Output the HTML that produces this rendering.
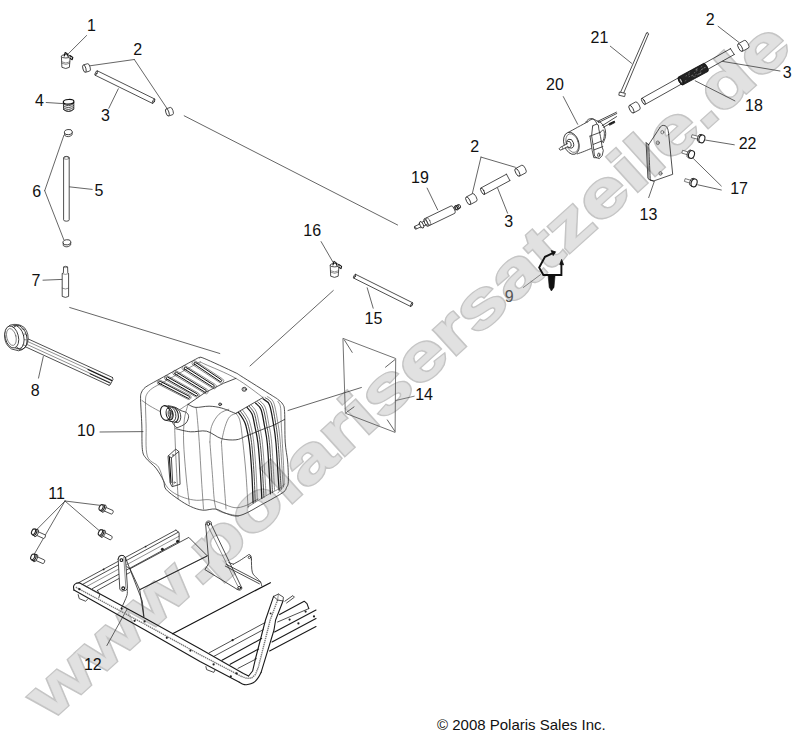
<!DOCTYPE html>
<html><head><meta charset="utf-8">
<style>
html,body{margin:0;padding:0;background:#fff;}
svg{display:block;font-family:"Liberation Sans",sans-serif;}
.l{stroke:#222;stroke-width:0.8;fill:none;stroke-linecap:round;stroke-linejoin:round}
.t{stroke:#444;stroke-width:0.6;fill:none;stroke-linecap:round;stroke-linejoin:round}
.m{stroke:#1a1a1a;stroke-width:1.1;fill:none;stroke-linecap:round;stroke-linejoin:round}
.k{stroke:#111;stroke-width:1.4;fill:none;stroke-linecap:round;stroke-linejoin:round}
.f{stroke:#222;stroke-width:0.8;fill:#fff;stroke-linejoin:round}
.ld{stroke:#333;stroke-width:0.75;fill:none;stroke-linecap:round}
.n{font-size:16px;fill:#111;text-anchor:middle}
</style></head><body>
<svg width="811" height="745" viewBox="0 0 811 745">
<rect width="811" height="745" fill="#fff"/>
<g id="wm" transform="translate(50.2,721.4) rotate(-42.06) scale(1.3203,1)" font-weight="bold" font-size="64" stroke-linejoin="miter">
<text x="0" y="0" dx="0 0 0 5 -5 0 0 0 0 0 0 0 0 0 0 0 0 0 0 0 0 1 -1 0" fill="#c5c5c5" stroke="#c5c5c5" stroke-width="3.4" vector-effect="non-scaling-stroke">www.polarisersatzeile.de</text>
<text x="0" y="0" dx="0 0 0 5 -5 0 0 0 0 0 0 0 0 0 0 0 0 0 0 0 0 1 -1 0" fill="#e1e1e1" stroke="#e1e1e1" stroke-width="0.3" vector-effect="non-scaling-stroke">www.polarisersatzeile.de</text>
</g>
<g id="parts">
<line class="ld" x1="86.6" y1="35.5" x2="68.4" y2="53.7"/>
<line class="ld" x1="134.3" y1="59.5" x2="89.2" y2="65.9"/>
<line class="ld" x1="134.3" y1="59.5" x2="166.9" y2="108.3"/>
<line class="ld" x1="108.8" y1="108.3" x2="118.3" y2="88.8"/>
<line class="ld" x1="46.2" y1="102.5" x2="63.3" y2="103.6"/>
<line class="ld" x1="92.2" y1="189.4" x2="69" y2="186.8"/>
<line class="ld" x1="44.7" y1="190.7" x2="63.9" y2="135.3"/>
<line class="ld" x1="44.7" y1="190.7" x2="63.9" y2="239.9"/>
<line class="ld" x1="43" y1="280.2" x2="62.1" y2="279.4"/>
<line class="ld" x1="38.5" y1="378.1" x2="43.3" y2="356.5"/>
<line class="ld" x1="100" y1="432" x2="143" y2="431.6"/>
<line class="ld" x1="65" y1="501" x2="101.4" y2="505.5"/>
<line class="ld" x1="65" y1="501" x2="100" y2="531.3"/>
<line class="ld" x1="65" y1="501" x2="37" y2="529.3"/>
<line class="ld" x1="65" y1="501" x2="34.2" y2="554.3"/>
<line class="ld" x1="106.9" y1="645.5" x2="127" y2="609.3"/>
<line class="ld" x1="321.1" y1="241.6" x2="333.3" y2="262.7"/>
<line class="ld" x1="373.2" y1="308.2" x2="367.2" y2="287.8"/>
<line class="ld" x1="427.1" y1="188.1" x2="437.7" y2="209.9"/>
<line class="ld" x1="481" y1="157.1" x2="472.1" y2="194.4"/>
<line class="ld" x1="481" y1="157.1" x2="515.4" y2="167.3"/>
<line class="ld" x1="507.6" y1="213.2" x2="497.6" y2="188.1"/>
<line class="ld" x1="610.3" y1="46.2" x2="631.6" y2="63.3"/>
<line class="ld" x1="563.3" y1="96.6" x2="577.7" y2="124.3"/>
<line class="ld" x1="718.1" y1="26.3" x2="738.9" y2="42.4"/>
<line class="ld" x1="780" y1="71" x2="722.6" y2="61.4"/>
<line class="ld" x1="734.9" y1="100.9" x2="695.2" y2="80.8"/>
<line class="ld" x1="648.7" y1="197.6" x2="654.3" y2="181.4"/>
<line class="ld" x1="705.6" y1="140.1" x2="734.3" y2="144.8"/>
<line class="ld" x1="693.5" y1="158.7" x2="721.3" y2="186"/>
<line class="ld" x1="697.8" y1="184.8" x2="721.3" y2="190"/>
<line class="ld" x1="184.2" y1="115.8" x2="397.6" y2="225"/>
<line class="ld" x1="69.7" y1="307.5" x2="219.8" y2="353.5"/>
<line class="ld" x1="250" y1="366" x2="333.3" y2="290.5"/>
<line class="ld" x1="288" y1="410.5" x2="361.4" y2="387.5"/>
<line class="ld" style="stroke:#666" x1="523.3" y1="287.5" x2="540.6" y2="274.6"/>
<line class="ld" style="stroke:#555" x1="395.7" y1="400.5" x2="414.2" y2="396.2"/>
<path class="f" d="M61.4,56.3 L61.9,67.3 Q65.8,69.7 69.4,67.3 L70.2,56.3 Z"/>
<ellipse class="f" cx="65.8" cy="56.3" rx="4.4" ry="1.7" transform="rotate(0 65.8 56.3)" />
<path class="t" d="M61.7,61.9 Q65.8,64.3 69.9,61.9"/>
<path class="t" d="M61.8,63.3 Q65.8,65.7 69.8,63.3"/>
<path class="k" d="M64.2,56 L65.2,52.5 L67.2,53.7 L68.2,56.6" style="stroke-width:1.1"/>
<path class="k" d="M70,55.5 L72.8,57.5 L72.2,59.7 L70.2,58.5" style="stroke-width:1.1"/>
<path class="f" d="M330.2,265.2 L330.7,276.2 Q334.6,278.6 338.2,276.2 L339,265.2 Z"/>
<ellipse class="f" cx="334.6" cy="265.2" rx="4.4" ry="1.7" transform="rotate(0 334.6 265.2)" />
<path class="t" d="M330.5,270.8 Q334.6,273.2 338.7,270.8"/>
<path class="t" d="M330.6,272.2 Q334.6,274.6 338.6,272.2"/>
<path class="k" d="M333,264.9 L334,261.4 L336,262.6 L337,265.5" style="stroke-width:1.1"/>
<path class="k" d="M338.8,264.4 L341.6,266.4 L341,268.6 L339,267.4" style="stroke-width:1.1"/>
<path class="f" d="M85.4,72.3 L89.6,71.1 A1.5,3.8 -15.9 0 0 87.6,63.7 L83.4,64.9"/>
<ellipse class="f" cx="84.4" cy="68.6" rx="1.5" ry="3.8" transform="rotate(-15.9 84.4 68.6)" />
<path class="f" d="M168.6,116 L172.8,114.6 A1.5,3.8 -18.4 0 0 170.4,107.4 L166.2,108.8"/>
<ellipse class="f" cx="167.4" cy="112.4" rx="1.5" ry="3.8" transform="rotate(-18.4 167.4 112.4)" />
<path class="f" d="M470.2,204.6 L476.6,201.2 A1.7,4.3 -28 0 0 472.6,193.6 L466.2,197"/>
<ellipse class="f" cx="468.2" cy="200.8" rx="1.7" ry="4.3" transform="rotate(-28 468.2 200.8)" />
<path class="f" d="M519.4,176.2 L525.8,172.8 A1.7,4.3 -28 0 0 521.8,165.2 L515.4,168.6"/>
<ellipse class="f" cx="517.4" cy="172.4" rx="1.7" ry="4.3" transform="rotate(-28 517.4 172.4)" />
<path class="f" d="M633.5,113 L639.7,109.6 A1.7,4.3 -28.7 0 0 635.5,102 L629.3,105.4"/>
<ellipse class="f" cx="631.4" cy="109.2" rx="1.7" ry="4.3" transform="rotate(-28.7 631.4 109.2)" />
<path class="f" d="M742.3,51.4 L748.5,48 A1.7,4.3 -28.7 0 0 744.3,40.4 L738.1,43.8"/>
<ellipse class="f" cx="740.2" cy="47.6" rx="1.7" ry="4.3" transform="rotate(-28.7 740.2 47.6)" />
<path class="l" d="M95.1,75.2 L152.5,103.4" />
<path class="l" d="M97.3,70.8 L154.7,99" />
<ellipse class="l" cx="96.2" cy="73" rx="0.8" ry="2.4" transform="rotate(26.2 96.2 73)" />
<ellipse class="l" cx="153.6" cy="101.2" rx="0.8" ry="2.4" transform="rotate(26.2 153.6 101.2)" />
<path class="l" d="M484.3,194.4 L509.9,180.6" />
<path class="l" d="M480.9,188 L506.5,174.2" />
<ellipse class="l" cx="482.6" cy="191.2" rx="1.3" ry="3.6" transform="rotate(-28.3 482.6 191.2)" />
<path class="l" d="M506.5,174.2 L509.9,180.6" />
<path class="l" d="M353.7,278.1 L410.7,306.5" />
<path class="l" d="M355.5,274.3 L412.5,302.7" />
<ellipse class="l" cx="354.6" cy="276.2" rx="0.7" ry="2.1" transform="rotate(26.5 354.6 276.2)" />
<ellipse class="l" cx="411.6" cy="304.6" rx="0.7" ry="2.1" transform="rotate(26.5 411.6 304.6)" />
<path class="f" d="M63.4,102.2 L63.6,109.4 Q68.6,113.6 73.8,109.2 L73.8,102"/>
<path class="l" d="M63.4,103.8 Q68.6,108 73.8,103.4"/>
<path class="l" d="M63.4,105.7 Q68.6,109.9 73.8,105.3"/>
<path class="l" d="M63.4,107.6 Q68.6,111.8 73.8,107.2"/>
<path class="l" d="M63.4,109.5 Q68.6,113.7 73.8,109.1"/>
<ellipse class="k" cx="68.6" cy="101.8" rx="5.3" ry="2.3" transform="rotate(-3 68.6 101.8)" style="stroke-width:1.2;fill:#fff"/>
<path class="f" d="M63.6,158 A2.8,1.6 0 0 1 69.2,158 L69.2,219.8 A2.8,1.4 0 0 1 63.6,219.8 Z"/>
<ellipse class="t" cx="66.4" cy="158" rx="2.8" ry="1.3" transform="rotate(0 66.4 158)" />
<path class="f" d="M64.5,132.4 L64.7,135.4 Q68.3,138.2 72.1,134.8 L72.1,131.8 Z"/>
<ellipse class="f" cx="68.3" cy="132.1" rx="3.9" ry="2.6" transform="rotate(-8 68.3 132.1)" />
<path class="f" d="M63.1,242.6 L63.3,245.6 Q66.9,248.4 70.7,245 L70.7,242 Z"/>
<ellipse class="f" cx="66.9" cy="242.3" rx="3.9" ry="2.6" transform="rotate(-8 66.9 242.3)" />
<path class="f" d="M63.6,267 Q65.6,265.6 67.6,267 L67.8,272.8 L68.6,273.6 L68.6,296.4 Q65.4,298.4 62.2,296.4 L62.2,273.6 L63.4,272.8 Z"/>
<path class="t" d="M62.2,273.6 Q65.4,275.4 68.6,273.6 M62.2,288.2 Q65.4,290 68.6,288.2 M63.6,267 Q65.6,268.6 67.6,267"/>
<path class="l" d="M27.4,338.6 L112.4,377.4" />
<path class="l" d="M24.6,346.4 L109,385.2" />
<path class="t" d="M27,341.2 L111.4,379.8" />
<path class="t" d="M25.6,343.8 L110.2,382.6" />
<path class="l" d="M112.4,377.4 L113,379.4 L110,385 L109,385.2" />
<path class="k" d="M88,369.6 L111.6,380.4" style="stroke-width:1.1"/>
<path class="k" d="M90,373.8 L110,383" style="stroke-width:0.9"/>
<path class="f" d="M10,325.2 Q18,322.6 24.4,327.6 Q29.6,334 27.6,342.6 Q25.4,349.6 18.6,350.8 L11.6,349 Q4.8,345 4.6,336 Q5,328.4 10,325.2 Z"/>
<ellipse class="l" cx="19.4" cy="337.4" rx="7.4" ry="12.2" transform="rotate(-14 19.4 337.4)" />
<ellipse class="l" cx="16.6" cy="337.2" rx="7.2" ry="12" transform="rotate(-14 16.6 337.2)" />
<ellipse class="f" cx="11.8" cy="337" rx="6.6" ry="11.2" transform="rotate(-14 11.8 337)" />
<ellipse class="t" cx="11.4" cy="337" rx="4.6" ry="8.6" transform="rotate(-14 11.4 337)" />
<path class="t" d="M20.6,325.6 L17.6,325.2" />
<path class="t" d="M24.6,329.4 L21.6,329" />
<path class="t" d="M26.8,334.4 L23.8,334" />
<path class="t" d="M27.2,340 L24.2,339.6" />
<path class="t" d="M25.4,345.4 L22.4,345" />
<path class="t" d="M21.8,349.4 L18.8,349" />
<path class="f" d="M101.5,509.8 L111.4,514.1 A1,2 23.5 0 0 113,510.5 L103.1,506.2"/>
<ellipse class="f" cx="103.8" cy="508.6" rx="1.8" ry="4" transform="rotate(23.5 103.8 508.6)" />
<ellipse class="f" cx="102.3" cy="508" rx="1.9" ry="3.4" transform="rotate(23.5 102.3 508)" style="stroke-width:1.05"/>
<ellipse class="f" cx="101.1" cy="507.5" rx="1.8" ry="3" transform="rotate(23.5 101.1 507.5)" style="stroke-width:1.05"/>
<path class="f" d="M100.7,534.9 L110,539.8 A1,2 27.8 0 0 111.8,536.2 L102.5,531.3"/>
<ellipse class="f" cx="103" cy="533.8" rx="1.8" ry="4" transform="rotate(27.8 103 533.8)" />
<ellipse class="f" cx="101.6" cy="533.1" rx="1.9" ry="3.4" transform="rotate(27.8 101.6 533.1)" style="stroke-width:1.05"/>
<ellipse class="f" cx="100.4" cy="532.5" rx="1.8" ry="3" transform="rotate(27.8 100.4 532.5)" style="stroke-width:1.05"/>
<path class="f" d="M33.9,534.1 L43.6,538.5 A1,2 24.4 0 0 45.2,534.9 L35.5,530.5"/>
<ellipse class="f" cx="36.2" cy="533" rx="1.8" ry="4" transform="rotate(24.4 36.2 533)" />
<ellipse class="f" cx="34.7" cy="532.3" rx="1.9" ry="3.4" transform="rotate(24.4 34.7 532.3)" style="stroke-width:1.05"/>
<ellipse class="f" cx="33.5" cy="531.8" rx="1.8" ry="3" transform="rotate(24.4 33.5 531.8)" style="stroke-width:1.05"/>
<path class="f" d="M33.1,559.2 L42.9,563.6 A1,2 24.2 0 0 44.5,560 L34.7,555.6"/>
<ellipse class="f" cx="35.4" cy="558.1" rx="1.8" ry="4" transform="rotate(24.2 35.4 558.1)" />
<ellipse class="f" cx="33.9" cy="557.4" rx="1.9" ry="3.4" transform="rotate(24.2 33.9 557.4)" style="stroke-width:1.05"/>
<ellipse class="f" cx="32.7" cy="556.9" rx="1.8" ry="3" transform="rotate(24.2 32.7 556.9)" style="stroke-width:1.05"/>
<path class="ld" d="M343.3,338.5 L395.7,358.5 L395.1,432.4 L345.7,413.4 Z" style="stroke:#444"/>
<line class="ld" x1="344.4" y1="340" x2="352.2" y2="352.4"/>
<line class="ld" x1="394.7" y1="359.8" x2="385.5" y2="367.2"/>
<line class="ld" x1="394.7" y1="431" x2="387.3" y2="419.9"/>
<line class="ld" x1="346.3" y1="412.5" x2="354" y2="406.9"/>
<path class="f" d="M427.8,226.3 L454.8,213.3 A1.4,4.1 -25.7 0 0 451.2,205.9 L424.2,218.9"/>
<ellipse class="f" cx="426" cy="222.6" rx="1.4" ry="4.1" transform="rotate(-25.7 426 222.6)" />
<path class="l" d="M420.5,227.7 L426.9,224.5" />
<path class="l" d="M418.7,223.9 L425.1,220.7" />
<path class="f" d="M415.8,229.2 L420.6,227 A0.6,1.5 -24.6 0 0 419.4,224.2 L414.6,226.4"/>
<ellipse class="f" cx="415.2" cy="227.8" rx="0.6" ry="1.5" transform="rotate(-24.6 415.2 227.8)" />
<ellipse class="f" cx="421.6" cy="224.8" rx="1.6" ry="3.6" transform="rotate(-26 421.6 224.8)" />
<path class="f" d="M455.7,209.9 L460.3,207.7 A0.7,1.7 -25.6 0 0 458.9,204.7 L454.3,206.9"/>
<ellipse class="f" cx="455" cy="208.4" rx="0.7" ry="1.7" transform="rotate(-25.6 455 208.4)" />
<ellipse class="l" cx="456.4" cy="207.8" rx="1.2" ry="2.6" transform="rotate(-26 456.4 207.8)" />
<ellipse class="l" cx="458" cy="207" rx="1.1" ry="2.3" transform="rotate(-26 458 207)" />
<ellipse class="f" cx="459.4" cy="206.2" rx="0.9" ry="1.9" transform="rotate(-26 459.4 206.2)" />
<ellipse class="t" cx="428.4" cy="221.4" rx="1.6" ry="4.1" transform="rotate(-26 428.4 221.4)" />
<path d="M554.4,252.4 L545,256.8 L539.2,267.6 L543.4,275 L561.4,275 L561.4,262.4" fill="none" stroke="#111" stroke-width="1.9" stroke-linejoin="miter"/>
<path d="M551.2,250.6 L555.6,251.8 L553.2,255.6 Z M559.8,264.6 L561.6,259.4 L563.6,264.8 Z" fill="#111" stroke="#111" stroke-width="0.8"/>
<path d="M548.2,276 L555,276 L554,287.2 L551.4,291 L549.2,287.2 Z" fill="#111" stroke="#111" stroke-width="0.6"/>
<path class="l" d="M646.4,33.2 L620.6,92.2" />
<path class="l" d="M648.4,34.2 L623.6,93.2" />
<path class="l" d="M646.4,33.2 L647.6,32.4 L648.4,34.2" />
<path class="f" d="M619.4,92 L625.4,93.4 L624.6,96.6 L618.8,95.2 Z" />
<path class="l" d="M645.1,104.4 L734.1,54.6" />
<path class="l" d="M641.7,98.4 L730.7,48.6" />
<ellipse class="l" cx="643.4" cy="101.4" rx="1.2" ry="3.4" transform="rotate(-29.2 643.4 101.4)" />
<path class="l" d="M730.4,48.6 L734.4,54.7" />
<path d="M682.8,85 L708,71.4 A1.8,4.6 -28.4 0 0 703.6,63.4 L678.4,77 A1.8,4.6 -28.4 0 0 682.8,85 Z" fill="#222" stroke="#111" stroke-width="0.8"/>
<line x1="688.7" y1="76.9" x2="690.1" y2="76.2" stroke="#999" stroke-width="0.5"/>
<line x1="691.7" y1="75.8" x2="693.1" y2="75" stroke="#999" stroke-width="0.5"/>
<line x1="695.4" y1="69.8" x2="696.8" y2="69.1" stroke="#999" stroke-width="0.5"/>
<line x1="684.9" y1="81.1" x2="686.3" y2="80.4" stroke="#999" stroke-width="0.5"/>
<line x1="688.2" y1="74.9" x2="689.6" y2="74.2" stroke="#999" stroke-width="0.5"/>
<line x1="704.4" y1="68" x2="705.8" y2="67.2" stroke="#999" stroke-width="0.5"/>
<line x1="701" y1="69.8" x2="702.5" y2="69" stroke="#999" stroke-width="0.5"/>
<line x1="695.9" y1="70.2" x2="697.3" y2="69.4" stroke="#999" stroke-width="0.5"/>
<line x1="698" y1="74.3" x2="699.4" y2="73.5" stroke="#999" stroke-width="0.5"/>
<line x1="695.3" y1="74.8" x2="696.7" y2="74.1" stroke="#999" stroke-width="0.5"/>
<line x1="696.3" y1="69.3" x2="697.7" y2="68.6" stroke="#999" stroke-width="0.5"/>
<line x1="699.8" y1="71.3" x2="701.2" y2="70.6" stroke="#999" stroke-width="0.5"/>
<line x1="688.5" y1="73.3" x2="689.9" y2="72.5" stroke="#999" stroke-width="0.5"/>
<line x1="701.6" y1="69.4" x2="703.1" y2="68.7" stroke="#999" stroke-width="0.5"/>
<line x1="699.8" y1="73.4" x2="701.2" y2="72.6" stroke="#999" stroke-width="0.5"/>
<line x1="699.8" y1="73.7" x2="701.3" y2="72.9" stroke="#999" stroke-width="0.5"/>
<line x1="692.8" y1="76.6" x2="694.2" y2="75.9" stroke="#999" stroke-width="0.5"/>
<line x1="694.3" y1="76.8" x2="695.7" y2="76.1" stroke="#999" stroke-width="0.5"/>
<line x1="700.8" y1="67.2" x2="702.2" y2="66.4" stroke="#999" stroke-width="0.5"/>
<line x1="685.6" y1="76.2" x2="687" y2="75.5" stroke="#999" stroke-width="0.5"/>
<line x1="703.6" y1="68.1" x2="705" y2="67.3" stroke="#999" stroke-width="0.5"/>
<line x1="696.1" y1="71.2" x2="697.5" y2="70.4" stroke="#999" stroke-width="0.5"/>
<line x1="693.9" y1="73" x2="695.3" y2="72.2" stroke="#999" stroke-width="0.5"/>
<line x1="691.2" y1="75.9" x2="692.6" y2="75.1" stroke="#999" stroke-width="0.5"/>
<line x1="697.1" y1="75.1" x2="698.5" y2="74.3" stroke="#999" stroke-width="0.5"/>
<line x1="699.2" y1="74.1" x2="700.6" y2="73.3" stroke="#999" stroke-width="0.5"/>
<ellipse class="f" cx="680.8" cy="80.9" rx="1.7" ry="4.3" transform="rotate(-28.4 680.8 80.9)" style="stroke:#111;fill:#333"/>
<ellipse class="f" cx="681" cy="80.8" rx="1" ry="2.7" transform="rotate(-28.4 681 80.8)" style="stroke:#111;fill:#ddd"/>
<path class="l" d="M568.3,132.4 C569.9,131.5 574.5,129 577.7,127.2 C581,125.4 586.1,122.7 587.7,121.8" />
<path class="l" d="M587.7,121.8 C588.5,121.3 590.7,119.3 592.2,119.1 C593.7,118.9 594.9,119.8 596.6,120.6 C598.3,121.4 600.7,122.3 602.2,123.9 C603.6,125.4 604.7,127.8 605.3,130 C605.8,132.1 605.8,134.5 605.5,136.6 C605.2,138.7 603.6,141.7 603.3,142.7" />
<path class="l" d="M577.2,153.9 C578.4,153.5 582.1,152.2 584.4,151.3 C586.8,150.3 590.1,148.9 591.3,148.4" />
<ellipse class="f" cx="571.4" cy="143.3" rx="7.4" ry="11.4" transform="rotate(-18 571.4 143.3)" />
<ellipse class="t" cx="572.2" cy="143.1" rx="6" ry="9.6" transform="rotate(-18 572.2 143.1)" />
<ellipse class="f" cx="570.2" cy="143.7" rx="3.3" ry="4.6" transform="rotate(-18 570.2 143.7)" />
<ellipse class="f" cx="568.9" cy="144.4" rx="2.2" ry="3.2" transform="rotate(-18 568.9 144.4)" />
<path class="f" d="M567.8,143.5 L562.2,146.4 L560.2,147.5 L559.1,148.8 L560.2,150.2 L562.4,149.3 L567.8,146.6" />
<path class="t" d="M562.2,146.4 L562.7,149.3" />
<path class="l" d="M585.7,122.2 C586.2,121.7 587.2,120 588.3,119.4 C589.4,118.8 591,118.4 592.2,118.6 C593.4,118.9 594.7,120 595.5,121.1 C596.3,122.1 597,123.9 597.2,125 C597.3,126.1 596.7,127.3 596.6,127.7" />
<path class="f" d="M592.7,125.7 L596.6,124.2 L598.4,125.1 L598.8,129.1 L594.4,131.1 L592.7,125.7" />
<path class="f" d="M592.7,125.7 L591.6,135.5 L593.8,149.9 L594.4,156 L596.6,157.7 L599.4,158.6 L602.2,155.5 L603.3,150.5 L602.2,147.2 L600.5,136.6 L598.8,129.1" />
<path class="l" d="M590,136.1 L591.6,135.5 L600.5,132.2" />
<path class="l" d="M590,136.1 L592.2,150.5 L593.8,157.7 L596.6,157.7" />
<path class="l" d="M593.3,144.4 L601.6,141.1" />
<path class="l" d="M593.9,149.9 L602.8,146.6" />
<ellipse class="l" cx="598.8" cy="154.9" rx="1.1" ry="2" transform="rotate(10 598.8 154.9)" />
<path class="l" d="M600.5,132.2 C601,131.8 602.6,129.8 603.3,130 C603.9,130.1 604.3,131.8 604.4,133.3 C604.5,134.8 604.2,137.4 603.8,138.8 C603.5,140.3 602.4,141.6 602.2,142.2" />
<path class="l" d="M597.7,121.3 L616.4,112.2" />
<path class="l" d="M598.4,122.6 L616.8,113.5" />
<path class="l" d="M602.2,125.7 L616.6,116.6" />
<path class="l" d="M603.3,127.3 L612.1,122.6" />
<path class="k" d="M609.4,123.5 L614.4,121.1 L614.8,122.6 L609.9,125.1 Z" style="fill:#222;stroke-width:0.8"/>
<path class="l" d="M650.3,179.9 C650.1,176 649.4,162.5 649.2,156.6 C648.9,150.7 648.8,146.6 648.7,144.6" />
<path class="l" d="M648.7,144.6 L657.2,131.7 L659.8,127.7" />
<path class="l" d="M659.8,127.7 C660.2,127.4 661.1,125.8 662.1,125.5 C663,125.2 664.6,125.4 665.6,126 C666.6,126.5 667.3,127.7 667.8,129.1 C668.3,130.5 668.6,133.5 668.7,134.4" />
<path class="l" d="M668.7,134.4 L672.7,174.3 L653.6,181 L650.3,179.9" />
<path class="l" d="M646.1,142.8 L648.7,144.6" />
<path class="l" d="M646.1,142.8 L647.9,178.3 L650.3,180.3 L653.6,181" />
<path class="t" d="M647.2,143.9 L649,179.2" />
<ellipse class="t" cx="662.3" cy="132.2" rx="1.5" ry="1.7" transform="rotate(0 662.3 132.2)" />
<ellipse class="t" cx="657.8" cy="142.8" rx="1.6" ry="1.9" transform="rotate(0 657.8 142.8)" style="fill:#bbb"/>
<ellipse class="t" cx="660.5" cy="173.4" rx="1.6" ry="1.9" transform="rotate(0 660.5 173.4)" style="fill:#bbb"/>
<path class="f" d="M701.7,137.3 L692.1,134.7 L691.3,137.5 L700.9,140.1" style="stroke:#555"/>
<ellipse class="f" cx="700.1" cy="138.4" rx="2.6" ry="4.2" transform="rotate(-164.8 700.1 138.4)" />
<ellipse class="f" cx="701.9" cy="138.9" rx="2.9" ry="4" transform="rotate(-164.8 701.9 138.9)" style="stroke-width:1.1"/>
<path class="f" d="M691.3,152.9 L682.6,150.3 L681.8,153.1 L690.5,155.7" style="stroke:#555"/>
<ellipse class="f" cx="689.8" cy="154" rx="2.6" ry="4.2" transform="rotate(-163.4 689.8 154)" />
<ellipse class="f" cx="691.5" cy="154.5" rx="2.9" ry="4" transform="rotate(-163.4 691.5 154.5)" style="stroke-width:1.1"/>
<path class="f" d="M693.9,181.3 L685.2,178.6 L684.4,181.4 L693.1,184.1" style="stroke:#555"/>
<ellipse class="f" cx="692.4" cy="182.3" rx="2.6" ry="4.2" transform="rotate(-162.8 692.4 182.3)" />
<ellipse class="f" cx="694.1" cy="182.9" rx="2.9" ry="4" transform="rotate(-162.8 694.1 182.9)" style="stroke-width:1.1"/>
<text class="n" x="91.5" y="30.6">1</text>
<text class="n" x="137.6" y="54.6">2</text>
<text class="n" x="105.4" y="121.4">3</text>
<text class="n" x="39.4" y="106">4</text>
<text class="n" x="99" y="195.5">5</text>
<text class="n" x="36.6" y="196.5">6</text>
<text class="n" x="36" y="286.3">7</text>
<text class="n" x="35.3" y="395.8">8</text>
<text class="n" x="85.9" y="436.3">10</text>
<text class="n" x="56.6" y="499.4">11</text>
<text class="n" x="92.8" y="670.4">12</text>
<text class="n" x="312.2" y="236.1">16</text>
<text class="n" x="373.4" y="323.7">15</text>
<text class="n" x="424.1" y="399.9">14</text>
<text class="n" x="420" y="183.3">19</text>
<text class="n" x="474.6" y="152.2">2</text>
<text class="n" x="508.8" y="226.5">3</text>
<text class="n" x="599.4" y="42.9">21</text>
<text class="n" x="555" y="89.9">20</text>
<text class="n" x="710.3" y="25">2</text>
<text class="n" x="787.3" y="77.7">3</text>
<text class="n" x="753.9" y="110.5">18</text>
<text class="n" x="648.4" y="219.8">13</text>
<text class="n" x="747.6" y="148.6">22</text>
<text class="n" x="739.1" y="194.3">17</text>
<text class="n" x="509.1" y="302.3" style="fill:#555">9</text>
<path class="f" d="M140.6,400 C140.5,394.7 140.6,394.9 141.2,393 C141.8,391.1 142.8,389.8 144,388.5 C145.2,387.2 146,386.8 148.6,385.2 C151.2,383.6 151.9,383.3 159.7,379 C167.5,374.7 188.9,362.8 195.5,359.3 C202.1,355.8 198.1,358.1 199.5,358 C200.9,357.9 198.2,356 204.1,358.4 C210,360.8 228.9,369.6 235,372.5 C241.1,375.4 234.6,372 240.8,375.9 C247,379.8 266.1,391.8 272.3,395.7 C278.5,399.6 276.1,398 277.8,399.4 C279.6,400.8 281.7,402.2 282.8,404.3 C283.9,406.4 284.2,405.4 284.6,411.7 C285,418 284.7,433.6 285.2,442 C285.7,450.4 287.2,455.4 287.7,462 C288.2,468.6 288.5,477.6 288.3,481.8 C288.1,486.1 287.2,485.9 286.5,487.5 C285.8,489.1 286.1,490 284,491.7 C281.9,493.4 278,495.6 274.1,497.8 C270.2,500.1 264.3,503.1 260.6,505.2 C256.9,507.3 254.8,508.6 251.9,510.2 C249,511.8 245.8,513.5 243,514.5 C240.2,515.5 238,516.2 235,516 C232,515.8 228.3,514.2 225,513 C221.7,511.8 218.9,509.5 215.2,509 C211.5,508.5 207,510.6 202.9,510.2 C198.8,509.8 194.7,508.4 190.6,506.5 C186.5,504.6 182.3,502 178.2,499.1 C174.1,496.2 168.4,492.3 165.9,489.2 C163.4,486.1 165.1,484.1 163.4,480.6 C161.8,477.1 158.9,471.9 156,468.2 C153.1,464.5 148.4,461.4 146.1,458.3 C143.8,455.2 143.1,455.2 142.4,449.7 C141.7,444.1 142.1,433.3 141.8,425 C141.5,416.7 140.7,405.3 140.6,400 Z" style="fill:#fff;fill-opacity:0.0"/>
<path class="t" d="M161.5,383.3 C160,384.1 154.8,386.5 152.3,388.3 C149.8,390.1 147.8,392.1 146.7,394.4 C145.6,396.7 145.6,396.8 145.5,401.9 C145.4,407 145.8,416 146.1,425 C146.4,434 145.2,448.9 147.3,455.9 C149.4,462.9 155.6,462.5 158.5,467 C161.4,471.5 162.3,478.9 164.6,483 C166.8,487.1 168.7,489.2 172,491.7 C175.3,494.2 180.3,496.4 184.4,497.8 C188.5,499.2 192.6,500 196.7,500.3 C200.8,500.6 204.9,499.2 209.1,499.7 C213.3,500.2 217.7,502.2 222,503.5 C226.3,504.8 231,507.4 235,507.7 C239,508 242.2,506.9 246,505.5 C249.8,504.1 256,500.1 258,499" />
<path class="t" d="M161.5,383.3 C167.4,380 190.2,367.1 196.7,363.6 C203.2,360.1 199.1,362.3 200.5,362.4 C201.9,362.5 199.1,361.5 205,364.2 C210.9,366.9 226.2,372.8 235.9,378.4 C245.6,383.9 258.5,394.3 263,397.5" />
<path class="l" d="M235.9,378.4 L223.5,383.3 L205,392.6 L188.1,404.3" />
<path class="t"  d="M193,364.9 L220.1,382.8 A2.3,2.3 0 0 0 222.7,379 L195.6,361.1 A2.3,2.3 0 0 0 193,364.9 Z"/>
<path class="k" style="stroke-width:1.0" d="M194.3,364.1 L220.2,381.6 A1.1,1.1 0 0 0 221.4,379.8 L195.5,362.3 A1.1,1.1 0 0 0 194.3,364.1 Z"/>
<path class="t"  d="M183.2,369.9 L212.8,388.4 A2.3,2.3 0 0 0 215.2,384.4 L185.6,365.9 A2.3,2.3 0 0 0 183.2,369.9 Z"/>
<path class="k" style="stroke-width:1.0" d="M184.4,369 L212.8,387.1 A1.1,1.1 0 0 0 214,385.3 L185.6,367.2 A1.1,1.1 0 0 0 184.4,369 Z"/>
<path class="t"  d="M173.9,374.8 L204.8,393.4 A2.3,2.3 0 0 0 207.2,389.4 L176.3,370.8 A2.3,2.3 0 0 0 173.9,374.8 Z"/>
<path class="k" style="stroke-width:1.0" d="M175.1,373.9 L204.8,392.1 A1.1,1.1 0 0 0 206,390.3 L176.3,372.1 A1.1,1.1 0 0 0 175.1,373.9 Z"/>
<path class="t"  d="M165.4,379.8 L196.2,397.1 A2.3,2.3 0 0 0 198.4,393.1 L167.6,375.8 A2.3,2.3 0 0 0 165.4,379.8 Z"/>
<path class="k" style="stroke-width:1.0" d="M166.6,379 L196.2,395.9 A1.1,1.1 0 0 0 197.2,393.9 L167.6,377 A1.1,1.1 0 0 0 166.6,379 Z"/>
<path class="t"  d="M158.1,384.1 L188.3,399.5 A2.3,2.3 0 0 0 190.3,395.5 L160.1,380.1 A2.3,2.3 0 0 0 158.1,384.1 Z"/>
<path class="k" style="stroke-width:1.0" d="M159.2,383.3 L188.2,398.3 A1.1,1.1 0 0 0 189.2,396.3 L160.2,381.3 A1.1,1.1 0 0 0 159.2,383.3 Z"/>
<path class="l" d="M188.1,404.3 C189.3,404.8 192,407.1 195.5,407.4 C199,407.7 204.8,406.1 209.1,406.2 C213.4,406.3 216.9,406.8 221.4,408 C225.9,409.2 233.5,412.7 235.9,413.6" />
<path class="l" d="M263,397.5 L235.9,413.3" />
<ellipse class="l" cx="244.3" cy="389.3" rx="2.3" ry="2" transform="rotate(0 244.3 389.3)" />
<ellipse class="t" cx="244.3" cy="389.3" rx="1.3" ry="1.1" transform="rotate(0 244.3 389.3)" />
<ellipse class="l" cx="220.1" cy="404.3" rx="1.5" ry="1.3" transform="rotate(0 220.1 404.3)" style="fill:#aaa"/>
<path class="l" d="M168,405.6 C169.2,405.9 172.8,406.4 175,407.2 C177.2,408 179.1,409.7 181,410.6 C182.9,411.5 185.2,411.6 186.5,412.6 C187.8,413.6 188.7,415.1 188.6,416.8 C188.5,418.5 187.4,421.4 186,423 C184.6,424.6 181.7,425.9 180,426.6 C178.3,427.3 177.4,428.1 176,427.2 C174.6,426.3 172.5,422.4 171.8,421.4" />
<ellipse class="f" cx="176.2" cy="415.3" rx="4.4" ry="7.4" transform="rotate(-12 176.2 415.3)" />
<ellipse class="f" cx="173.6" cy="414.7" rx="4.6" ry="7.6" transform="rotate(-12 173.6 414.7)" style="stroke-width:1.1"/>
<ellipse class="f" cx="171.2" cy="414.3" rx="4.5" ry="7.5" transform="rotate(-12 171.2 414.3)" />
<ellipse class="f" cx="165.4" cy="413" rx="4.9" ry="7.5" transform="rotate(-12 165.4 413)" style="stroke-width:1.1"/>
<path class="l" d="M164.2,405.6 L170.4,406.9" />
<path class="l" d="M166.4,420.4 L172.2,421.7" />
<ellipse class="k" cx="169.6" cy="413.9" rx="3.4" ry="5.9" transform="rotate(-12 169.6 413.9)" style="stroke-width:1.0"/>
<ellipse class="l" cx="170.4" cy="414.1" rx="2.2" ry="4.2" transform="rotate(-12 170.4 414.1)" />
<ellipse class="t" cx="170.9" cy="414.2" rx="1.1" ry="2.4" transform="rotate(-12 170.9 414.2)" />
<path class="t" d="M142,400.5 C143.3,401.4 147,404.2 150,406 C153,407.8 158.3,410.6 160,411.5" />
<path class="t" d="M188.1,404.3 C187.2,404.8 184.3,406.6 183,407.5 C181.7,408.4 180.5,409.2 180,409.5" />
<path class="t" d="M174.5,422.8 C174.6,426 174.9,434.1 175.2,442 C175.5,449.9 176,460.5 176.5,470 C177,479.5 177.9,494.2 178.2,499.1" />
<path class="t" d="M188.1,404.3 C187.5,406.8 185.2,412.8 184.4,419.1 C183.7,425.4 183.3,432.7 183.6,442 C183.9,451.3 185.1,464.7 186,475 C186.9,485.3 188.8,499.2 189.3,504" />
<path class="t" d="M195.5,407.4 C195.7,408.1 196.1,406 196.7,411.7 C197.3,417.4 198.4,430 199.2,441.4 C200,452.8 200.8,468.7 201.5,480 C202.2,491.3 203.2,504.2 203.5,509" />
<path class="t" d="M209.9,442 C210.2,439.4 210,431.1 211.5,426.5 C213,421.9 216.1,417.1 219,414.2 C221.9,411.3 227.2,410.1 228.8,409.3" />
<path class="t" d="M209.9,442 C210.3,447.4 211.6,464.1 212.4,474.4 C213.2,484.7 213.7,497.8 214.9,504 C216.1,510.2 215.9,509.4 219.8,511.4 C223.7,513.4 235.2,515.2 238.3,516" />
<path class="t" d="M221.4,442 C222,439.4 223.7,430.7 225.1,426.5 C226.5,422.3 227.7,418.9 229.7,416.7 C231.7,414.4 235.9,413.6 237.1,413" />
<path class="t" d="M221.4,442 C221.8,447.4 222.7,463.2 223.5,474.4 C224.3,485.6 225.6,503.2 226,509" />
<path class="l" d="M175.7,428.7 C178.2,429.2 185.4,431.4 190.6,431.8 C195.8,432.2 201.5,430.1 206.6,431.2 C211.7,432.3 216.5,437.2 221.4,438.6 C226.3,440 231.9,440.2 235.9,439.8 C239.9,439.4 241,438.2 245.7,436.3 C250.4,434.4 259.6,430.6 264.3,428.7 C269,426.8 270.7,426.6 274.1,425 C277.5,423.4 282.9,420.3 284.6,419.4" />
<path class="k" d="M238.3,412.3 C239.1,413.4 241.7,416.7 243,419 C244.3,421.3 244.9,421.9 246,426 C247.1,430.1 248.4,435.4 249.4,443.5 C250.4,451.6 251.3,464.5 251.9,474.4 C252.5,484.3 252.9,498.2 253.1,503" style="stroke-width:1.25;stroke:#1a1a1a"/>
<path class="l" d="M240.4,411.2 C241.2,412.3 243.8,415.6 245.1,417.9 C246.4,420.1 247,420.8 248.1,424.9 C249.2,428.9 250.5,434.3 251.5,442.4 C252.5,450.4 253.4,463.3 254,473.2 C254.6,483.2 255,497.1 255.2,501.9" />
<path class="t" d="M242.5,410 C243.3,411.1 245.9,414.4 247.2,416.7 C248.5,419 249.1,419.6 250.2,423.7 C251.3,427.8 252.6,433.1 253.6,441.2 C254.6,449.3 255.5,462.4 256.1,472.1 C256.7,481.8 257.1,495 257.3,499.6" />
<path class="k" d="M247,407.4 C247.8,408.5 250.7,410.9 252,414 C253.3,417.1 253.8,421.1 254.8,426 C255.8,430.9 257.1,435.5 258,443.5 C258.9,451.5 259.9,464.8 260.5,474 C261.1,483.2 261.6,494.4 261.8,498.5" style="stroke-width:1.25;stroke:#1a1a1a"/>
<path class="l" d="M249.1,406.2 C249.9,407.4 252.8,409.8 254.1,412.9 C255.4,416 255.9,419.9 256.9,424.9 C257.9,429.8 259.2,434.4 260.1,442.4 C261.1,450.4 262,463.7 262.6,472.9 C263.2,482 263.7,493.3 263.9,497.4" />
<path class="t" d="M251.2,405.1 C252,406.2 254.9,408.6 256.2,411.7 C257.5,414.8 258,418.8 259,423.7 C260,428.6 261.2,433.2 262.2,441.2 C263.1,449.2 264.1,462.7 264.7,471.7 C265.3,480.7 265.8,491.2 266,495.1" />
<path class="k" d="M255.6,403.1 C256.5,404.2 259.5,405.7 261,409.5 C262.5,413.3 263.4,420.3 264.5,426 C265.6,431.7 266.5,435.5 267.3,443.5 C268.1,451.5 268.8,465.6 269.3,474 C269.8,482.4 270.2,490.5 270.4,493.8" style="stroke-width:1.25;stroke:#1a1a1a"/>
<path class="l" d="M257.7,402 C258.6,403 261.6,404.5 263.1,408.4 C264.6,412.2 265.6,419.2 266.6,424.9 C267.7,430.5 268.6,434.4 269.4,442.4 C270.2,450.4 270.9,464.5 271.4,472.9 C271.9,481.2 272.3,489.4 272.5,492.7" />
<path class="t" d="M259.8,400.8 C260.7,401.9 263.7,403.4 265.2,407.2 C266.7,411 267.6,418 268.7,423.7 C269.8,429.4 270.7,433.2 271.5,441.2 C272.3,449.2 273,463.5 273.5,471.7 C274,479.9 274.4,487.3 274.6,490.4" />
<path class="k" d="M263,398.8 C264.1,399.8 267.7,400.5 269.5,405 C271.3,409.5 272.7,419.6 273.8,426 C274.9,432.4 275.3,435.5 276,443.5 C276.7,451.5 277.5,466.2 278,474 C278.5,481.8 278.9,487.3 279.1,490" style="stroke-width:1.25;stroke:#1a1a1a"/>
<path class="l" d="M265.1,397.7 C266.2,398.7 269.8,399.3 271.6,403.9 C273.4,408.4 274.8,418.4 275.9,424.9 C277,431.3 277.4,434.4 278.1,442.4 C278.8,450.4 279.6,465.1 280.1,472.9 C280.6,480.6 281,486.2 281.2,488.9" />
<path class="t" d="M267.2,396.5 C268.3,397.5 271.9,398.2 273.7,402.7 C275.5,407.2 276.9,417.3 278,423.7 C279.1,430.1 279.5,433.2 280.2,441.2 C280.9,449.2 281.7,464.1 282.2,471.7 C282.7,479.3 283.1,484.1 283.3,486.6" />
<path class="t" d="M235.9,413.3 C236.6,414.6 238.8,416 240,421 C241.2,426 242,434.7 243,443.5 C244,452.3 245.2,463.4 246,474 C246.8,484.6 247.7,501.5 248,507" />
<path class="t" d="M277.8,401.5 C278.2,402.4 279.9,403.1 280.5,407 C281.1,410.9 280.8,415.8 281.3,425 C281.8,434.2 282.9,452.2 283.4,462 C283.8,471.8 284.4,479.4 284,484 C283.6,488.6 282,488 281,489.5 C280,491 278.3,492.4 277.8,493" />
<path class="t" d="M248,507 C249.7,505.9 254.3,502.8 258,500.5 C261.7,498.2 266.3,495.6 270,493.5 C273.7,491.4 277.6,489.8 280,488.2 C282.4,486.6 283.8,484.7 284.5,484" />
<path class="l" d="M168.3,455.9 L175.7,449.1 L178.8,451.5 L180.1,484.3 L172,486.7 L170.2,483 Z" />
<path class="l" d="M168.3,455.9 L171.4,457.8 L178.8,451.5" />
<path class="l" d="M171.4,457.8 L172.8,485.4" />
<path class="k" d="M169.4,457.2 L171,482.6" style="stroke-width:1.1"/>
<ellipse class="t" cx="172.9" cy="455.1" rx="0.7" ry="0.7" transform="rotate(0 172.9 455.1)" />
<ellipse class="t" cx="174.6" cy="482.6" rx="0.7" ry="0.7" transform="rotate(0 174.6 482.6)" />
<path class="f" d="M130,568.8 L188.8,537.4 L207.3,555.9 L139.7,589.7 Z" style="fill:none"/>
<path class="l" d="M139.7,589.7 L143.7,616.3" />
<path class="l" d="M130,568.8 L126.8,566.7" />
<path class="l" d="M78.7,582.7 L175.9,530.1" />
<path class="l" d="M82.2,584.6 L178.3,532.2" />
<path class="t" d="M86.5,586.6 L179.1,536.2" />
<path class="l" d="M92.4,588.6 L179.1,541.4" />
<path class="l" d="M97.4,590.4 L130,572.4" />
<path class="l" d="M175.9,530.1 L179.1,532.6 L179.1,541.4" />
<circle cx="103.6" cy="569.4" r="0.9" fill="#222"/>
<circle cx="145.6" cy="546.6" r="0.9" fill="#222"/>
<circle cx="162.4" cy="549.2" r="1.5" fill="#222"/>
<circle cx="177.6" cy="541.2" r="1.5" fill="#222"/>
<path class="m" d="M79.3,582.8 L145,618.3 L200,648.7 L243.4,673.4 L248.6,676" />
<path class="l" d="M75.8,587.2 L145,624.2 L200,654.7 L241.4,676.4" style="stroke:#777;stroke-width:1.4;stroke-dasharray:1.4 0.7;stroke-linecap:butt"/>
<path class="m" d="M73.9,590.1 L145,630.1 L200,661.6 L239.4,682.3" />
<path class="m" d="M79.3,582.8 C78.7,582.9 76.5,583 75.6,583.6 C74.6,584.2 73.9,585.1 73.6,586.2 C73.3,587.3 73.9,589.5 73.9,590.1" />
<path class="l" d="M97.4,590.4 L99.8,594.4 L98.8,597.8" />
<path class="t" d="M84.4,585.6 L99.8,594.4" />
<circle cx="79.4" cy="589.2" r="1.1" fill="#222"/>
<circle cx="121.6" cy="608.6" r="1.1" fill="#222"/>
<circle cx="134.6" cy="620.8" r="1.1" fill="#222"/>
<circle cx="144.6" cy="621.4" r="1.1" fill="#222"/>
<circle cx="166.8" cy="637.8" r="1.1" fill="#222"/>
<circle cx="190.4" cy="650.6" r="1.1" fill="#222"/>
<circle cx="213.6" cy="664.4" r="1.1" fill="#222"/>
<circle cx="236.6" cy="673.4" r="1.1" fill="#222"/>
<circle cx="230.8" cy="676.4" r="1.1" fill="#222"/>
<path class="l" d="M78.2,594.6 L79.2,598.6 L85.6,601.2 L87.6,599.2" />
<path class="l" d="M205.9,666.6 L206.6,669.6 L213.8,672.4 L214.8,670.4" />
<path class="m" d="M239.4,682.3 C240,682.6 241.8,683.8 243,684.2 C244.2,684.6 245.1,684.8 246.4,684.7 C247.7,684.6 249.3,684.4 250.8,683.8 C252.3,683.2 253.9,682.4 255.2,681.3 C256.5,680.2 257.4,678.9 258.4,677.4 C259.4,675.9 260.7,673.2 261.1,672.4" />
<path class="m" d="M261.1,672.4 L274,630 L275.6,620 L283,601" />
<path class="m" d="M248.6,676 L252.6,671 L255.4,659 L265.5,620 L273.6,596.4" />
<path class="l" d="M241.4,676.4 L247,678.4 L251.6,678 L255.4,674.6 L258.4,667 L270.2,620 L277.6,600" style="stroke:#777;stroke-width:1.4;stroke-dasharray:1.4 0.7;stroke-linecap:butt"/>
<path class="l" d="M273.6,596.4 L278.4,594 L283.4,597.2 L283,601 L277.6,600 L273.6,596.4" />
<path class="t" d="M278.4,594 L277.6,600" />
<path class="l" d="M284.9,601.2 L292.9,595.6 L294.4,597.2 L286.6,603" />
<circle cx="270.6" cy="613.4" r="0.9" fill="#222"/>
<circle cx="255.6" cy="658.6" r="0.9" fill="#222"/>
<path class="l" d="M209.2,652.8 L265,622.6" />
<path class="m" d="M279.6,614.6 L304.2,601.2 L307,603.6 L308.8,608.6" />
<path class="l" d="M213.8,656.4 L263.4,629.6" />
<path class="l" d="M277.6,622 L308.8,608.6" />
<path class="m" d="M222,660.3 L261.6,638.6" />
<path class="m" d="M274.6,632 L316,610" />
<path class="m" d="M230.1,664.3 L258.6,649" />
<path class="m" d="M272,642 L316,618.4" />
<path class="l" d="M238,668.4 L256,659" />
<path class="m" d="M269.6,651 L316,626.6" />
<circle cx="232.6" cy="640.2" r="1.1" fill="#222"/>
<circle cx="289.6" cy="619.6" r="1.1" fill="#222"/>
<circle cx="305.6" cy="611.6" r="1.1" fill="#222"/>
<circle cx="298.4" cy="623.4" r="1.1" fill="#222"/>
<circle cx="314" cy="616.4" r="1.1" fill="#222"/>
<path class="k" d="M172.6,633.8 L270.4,582.7" style="stroke-width:1.15"/>
<path class="l" d="M139.7,589.7 L207.3,555.9" />
<path class="l" d="M118.2,559.3 C118.4,558.8 118.6,556.8 119.4,556.1 C120.3,555.5 122,555.2 123,555.5 C124,555.7 125,557.1 125.4,557.4" />
<path class="f" d="M118.2,559.3 L119.8,589.1 L121.7,591.2 L125.9,590.3 L127.5,588.3 L125.4,557.4" style="fill:#fff"/>
<path class="l" d="M118.2,559.3 C118.4,558.8 118.6,556.8 119.4,556.1 C120.3,555.5 122,555.2 123,555.5 C124,555.7 125,557.1 125.4,557.4" />
<ellipse class="k" cx="121.4" cy="560.1" rx="1.4" ry="1.4" transform="rotate(0 121.4 560.1)" style="stroke-width:1.1"/>
<ellipse class="k" cx="123.2" cy="588.3" rx="1.4" ry="1.4" transform="rotate(0 123.2 588.3)" style="stroke-width:1.1"/>
<path class="l" d="M125.4,557.4 L142.3,601.2 L143.9,616.5" />
<path class="l" d="M127.2,589.1 C127.1,590.2 127.8,592.5 126.9,595.6 C125.9,598.7 122.6,605.6 121.7,607.7" />
<path class="t" d="M123.8,557.4 L125.9,588.3" />
<path class="l" d="M205.7,524.8 C205.8,524.3 205.8,522.6 206.4,521.9 C206.9,521.3 208.1,520.9 208.9,521 C209.7,521 210.8,521.6 211.2,522.2 C211.6,522.9 211.5,524.4 211.5,524.8" />
<path class="l" d="M205.7,524.8 L208.9,563.2 L204.9,569.6 L237.1,589.3" />
<path class="l" d="M211.5,524.8 L241.5,587.3" />
<path class="t" d="M208,526.1 L237.6,585.7" />
<path class="l" d="M237.1,589.3 C237.5,589.4 238.8,590.3 239.5,590.2 C240.3,590.2 241.5,589.4 241.8,588.9 C242.1,588.4 241.5,587.6 241.5,587.3" />
<ellipse class="k" cx="208.4" cy="523.9" rx="1.5" ry="1.5" transform="rotate(0 208.4 523.9)" style="stroke-width:1.0"/>
<ellipse class="k" cx="239.2" cy="587.8" rx="1.4" ry="1.4" transform="rotate(0 239.2 587.8)" style="stroke-width:1.0"/>
<path class="l" d="M226.1,564.2 L260.7,582.2" />
<path class="l" d="M225.3,566.1 L259.4,583.8" />
<path class="l" d="M233.3,564.2 C234.4,563.6 237.5,562 239.8,560.6 C242.1,559.2 245.5,556.8 247,555.8 C248.6,554.8 248.4,554.4 249.1,554.5 C249.8,554.6 250.7,555.3 251,556.1 C251.4,556.9 251.3,558.8 251.4,559.3" />
<path class="l" d="M251.4,559.3 C251.5,561.5 251.4,569.1 252.3,572.2 C253.2,575.3 255.3,576.2 256.7,577.9 C258.1,579.5 259.9,580.9 260.7,582.2 C261.5,583.5 261.5,585.3 261.7,585.9" />
<ellipse class="l" cx="249.4" cy="557.4" rx="1.2" ry="1.2" transform="rotate(0 249.4 557.4)" />
<path class="l" d="M233.3,564.2 L228.8,562.6" />
</g>
<text x="437" y="730" font-size="15" fill="#111">© 2008 Polaris Sales Inc.</text>
</svg>
</body></html>
